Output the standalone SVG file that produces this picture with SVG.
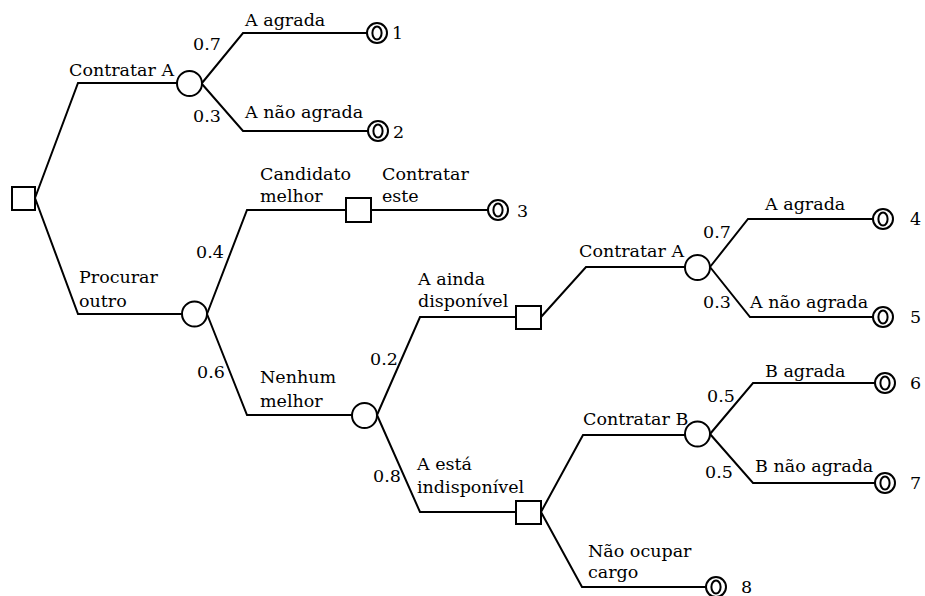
<svg xmlns="http://www.w3.org/2000/svg" width="925" height="596" viewBox="0 0 925 596">
  <style>
    .edge { fill: none; stroke: #000; stroke-width: 2; stroke-linejoin: miter; }
    .decision { fill: #fff; stroke: #000; stroke-width: 2; }
    .chance { fill: #fff; stroke: #000; stroke-width: 2; }
    .end { fill: #fff; stroke: #000; stroke-width: 2; }
    text { font-family: 'DejaVu Serif', serif; font-size: 17.5px; fill: #000; }
  </style>
  <defs>
    <g id="endNode">
      <circle class="end" cx="0" cy="0" r="10"/>
      <ellipse class="end" cx="0" cy="0" rx="4.6" ry="6.6"/>
    </g>
  </defs>
  <rect width="925" height="596" fill="#fff"/>

  <!-- branches -->
  <g id="connectors">
    <polyline class="edge" points="35,198 78,83 178,83"/>
    <polyline class="edge" points="35,198 78,314 182,314"/>
    <polyline class="edge" points="202,83 243,33 367,33"/>
    <polyline class="edge" points="202,84 243,131 368,131"/>
    <polyline class="edge" points="207,314 247,210 345,210"/>
    <polyline class="edge" points="207,314 247,415 352,415"/>
    <polyline class="edge" points="371,210 488,210"/>
    <polyline class="edge" points="377,415 420,317 516,317"/>
    <polyline class="edge" points="377,415 420,512 516,512"/>
    <polyline class="edge" points="541,317 586,267 685,267"/>
    <polyline class="edge" points="710,267 748,219 873,219"/>
    <polyline class="edge" points="710,267 750,317 873,317"/>
    <polyline class="edge" points="541,512 583,435 685,435"/>
    <polyline class="edge" points="541,512 582,587 706,587"/>
    <polyline class="edge" points="710,434 753,383 875,383"/>
    <polyline class="edge" points="710,434 753,483 875,483"/>
  </g>

  <!-- decision nodes -->
  <g id="d-root"><rect class="decision" x="12" y="187" width="23" height="23"/></g>
  <g id="d-candidato"><rect class="decision" x="346" y="198" width="25" height="24"/></g>
  <g id="d-disponivel"><rect class="decision" x="516" y="306" width="25" height="23"/></g>
  <g id="d-indisponivel"><rect class="decision" x="516" y="501" width="25" height="23"/></g>

  <!-- chance nodes -->
  <g id="c-contratarA"><circle class="chance" cx="189.5" cy="83.5" r="12.5"/></g>
  <g id="c-procurar"><circle class="chance" cx="194.5" cy="314" r="12.5"/></g>
  <g id="c-nenhum"><circle class="chance" cx="364.5" cy="415.5" r="12.5"/></g>
  <g id="c-contratarA2"><circle class="chance" cx="697.5" cy="267.5" r="12.5"/></g>
  <g id="c-contratarB"><circle class="chance" cx="697.5" cy="434" r="12.5"/></g>

  <!-- end nodes -->
  <g id="t1"><use href="#endNode" x="377" y="33"/><text x="392" y="39">1</text></g>
  <g id="t2"><use href="#endNode" x="378" y="131"/><text x="393" y="138">2</text></g>
  <g id="t3"><use href="#endNode" x="498" y="210"/><text x="517" y="217">3</text></g>
  <g id="t4"><use href="#endNode" x="883" y="219"/><text x="910" y="225">4</text></g>
  <g id="t5"><use href="#endNode" x="883" y="317"/><text x="910" y="323">5</text></g>
  <g id="t6"><use href="#endNode" x="885" y="383"/><text x="910" y="389">6</text></g>
  <g id="t7"><use href="#endNode" x="885" y="483"/><text x="910" y="489">7</text></g>
  <g id="t8"><use href="#endNode" x="716" y="587"/><text x="741" y="593">8</text></g>

  <!-- branch labels -->
  <g id="labels">
    <text x="69" y="76">Contratar A</text>
    <text x="193" y="50">0.7</text>
    <text x="193" y="122">0.3</text>
    <text x="245" y="26">A agrada</text>
    <text x="245" y="118">A não agrada</text>
    <text x="260" y="180">Candidato</text>
    <text x="260" y="202">melhor</text>
    <text x="382" y="180">Contratar</text>
    <text x="382" y="202">este</text>
    <text x="79" y="283">Procurar</text>
    <text x="79" y="307">outro</text>
    <text x="196" y="258">0.4</text>
    <text x="197" y="378">0.6</text>
    <text x="260" y="383">Nenhum</text>
    <text x="260" y="407">melhor</text>
    <text x="370" y="365">0.2</text>
    <text x="418" y="285">A ainda</text>
    <text x="418" y="307">disponível</text>
    <text x="579" y="257">Contratar A</text>
    <text x="703" y="238">0.7</text>
    <text x="703" y="308">0.3</text>
    <text x="765" y="210">A agrada</text>
    <text x="750" y="308">A não agrada</text>
    <text x="373" y="482">0.8</text>
    <text x="417" y="470">A está</text>
    <text x="417" y="493">indisponível</text>
    <text x="583" y="425">Contratar B</text>
    <text x="707" y="402">0.5</text>
    <text x="705" y="478">0.5</text>
    <text x="765" y="377">B agrada</text>
    <text x="755" y="472">B não agrada</text>
    <text x="588" y="557">Não ocupar</text>
    <text x="588" y="578">cargo</text>
  </g>
</svg>
